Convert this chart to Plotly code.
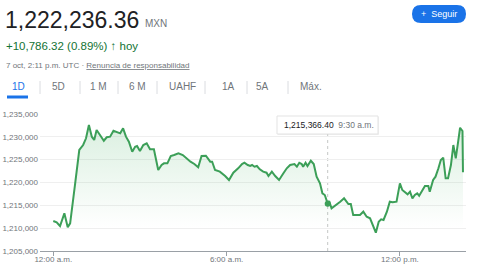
import plotly.graph_objects as go
import pandas as pd

DAY = "2024-10-07"
times = ["00:00","00:07","00:14","00:23","00:30","00:35","00:45","00:54","01:02","01:08",
         "01:14","01:20","01:25","01:30","01:37","01:45","01:51","01:58","02:05","02:12",
         "02:19","02:25","02:31","02:37","02:44","02:50","02:54","03:00","03:07","03:14",
         "03:21","03:29","03:38","03:45","03:50","03:57","04:04","04:11","04:20","04:29",
         "04:37","04:45","04:53","05:01","05:08","05:17","05:26","05:30","05:36","05:46",
         "05:57","06:05","06:14","06:21","06:24","06:32","06:37","06:44","06:49","06:53",
         "06:58","07:03","07:09","07:16","07:23","07:27","07:34","07:41","07:49","07:58",
         "08:05","08:12","08:21","08:26","08:31","08:36","08:39","08:44","08:48","08:55",
         "09:01","09:07","09:14","09:19","09:24","09:30","09:33","09:38","09:44","09:49",
         "09:56","10:04","10:13","10:18","10:23","10:30","10:37","10:44","10:51","10:58",
         "11:04","11:10","11:16","11:21","11:26","11:33","11:39","11:45","11:53","12:00",
         "12:05","12:11","12:16","12:21","12:26","12:31","12:36","12:40","12:45","12:52",
         "12:59","13:02","13:09","13:14","13:20","13:25","13:30","13:35","13:40","13:46",
         "13:51","13:56","14:01","14:05","14:10","14:11"]
values = [1211570,1211280,1210470,1213250,1210190,1211060,1219450,1227115,1228210,1229680,
          1232590,1230030,1229300,1231490,1230400,1229150,1229900,1230030,1231340,1231120,
          1230760,1231860,1230030,1228930,1226740,1227840,1227990,1226890,1228210,1228580,
          1227270,1227270,1222740,1223830,1224200,1224200,1225800,1226020,1226390,1226020,
          1225290,1224560,1224050,1223330,1225800,1225870,1224560,1224560,1222740,1222370,
          1221420,1220550,1222150,1222740,1223110,1224050,1224330,1223830,1223610,1223830,
          1223460,1223610,1222890,1222370,1222150,1221420,1222370,1221420,1220550,1222010,
          1223110,1223830,1224050,1223460,1224330,1224050,1223460,1224330,1223610,1224770,
          1224050,1221270,1219820,1217630,1217260,1215366.40,1215950,1214350,1214850,1215070,
          1215800,1216540,1215290,1215290,1212880,1212880,1212880,1213610,1212510,1212150,
          1210690,1209010,1211420,1211940,1211790,1213610,1215800,1215660,1215800,1219820,
          1218360,1217850,1217410,1217990,1216540,1217260,1217630,1217110,1218140,1219230,
          1219230,1217990,1220550,1221270,1223110,1224930,1225430,1220920,1220920,1223830,
          1228210,1225290,1228930,1231990,1231270,1222236.36]

y_ticks = [1205000, 1210000, 1215000, 1220000, 1225000, 1230000, 1235000]
x_tick_times = ["00:00", "06:00", "12:00"]
x_tick_labels = ["12:00 a.m.", "6:00 a.m.", "12:00 p.m."]

price_text = "1,222,236.36"
currency = "MXN"
change_text = "+10,786.32 (0.89%)"
change_suffix = "hoy"
date_text = "7 oct, 2:11 p.m. UTC"
disclaimer = "Renuncia de responsabilidad"
tabs = ["1D", "5D", "1 M", "6 M", "UAHF", "1A", "5A", "Máx."]
button_text = "+  Seguir"
hover_time = "09:30"
hover_value = 1215366.40
hover_label = "9:30 a.m."

FONT = "Liberation Sans, Arial, sans-serif"
GREEN = "#3c9f58"
BLUE = "#1a73e8"
GRAY = "#70757a"

x = pd.to_datetime([f"{DAY} {t}" for t in times])
hx = pd.to_datetime(f"{DAY} {hover_time}")

# plot area in pixels
PL, PR, PT, PB = 40, 466, 114, 251
def px(v):
    return (v - PL) / (PR - PL)
def py(v):
    return (PB - v) / (PB - PT)

fig = go.Figure()
fig.add_trace(go.Scatter(
    x=x, y=values, mode="lines",
    line=dict(color=GREEN, width=2),
    fill="tozeroy",
    fillgradient=dict(type="vertical", start=1210000, stop=1233000,
                      colorscale=[[0, "rgba(52,168,83,0)"], [1, "rgba(52,168,83,0.18)"]]),
    hoverinfo="skip", showlegend=False))
fig.add_trace(go.Scatter(
    x=[hx], y=[hover_value], mode="markers",
    marker=dict(color=GREEN, size=6), hoverinfo="skip", showlegend=False))

shapes = []
shapes.append(dict(type="line", xref="x", yref="paper", x0=hx, x1=hx, y0=0, y1=py(134),
                   line=dict(color="#c4c7c5", width=1, dash="dot"), layer="below"))
shapes.append(dict(type="rect", xref="paper", yref="paper", x0=px(278), x1=px(379),
                   y0=py(135), y1=py(117), fillcolor="rgba(0,0,0,0.06)", line=dict(width=0)))
shapes.append(dict(type="rect", xref="paper", yref="paper", x0=px(277), x1=px(378),
                   y0=py(134), y1=py(116), fillcolor="white", line=dict(color="#e3e3e3", width=1)))
bx0, bx1, by0, by1, r = 412, 466, 5, 23, 9
path = (f"M {px(bx0+r)} {py(by0)} L {px(bx1-r)} {py(by0)} "
        f"Q {px(bx1)} {py(by0)} {px(bx1)} {py(by0+r)} "
        f"Q {px(bx1)} {py(by1)} {px(bx1-r)} {py(by1)} "
        f"L {px(bx0+r)} {py(by1)} "
        f"Q {px(bx0)} {py(by1)} {px(bx0)} {py(by0+r)} "
        f"Q {px(bx0)} {py(by0)} {px(bx0+r)} {py(by0)} Z")
shapes.append(dict(type="path", xref="paper", yref="paper", path=path,
                   fillcolor=BLUE, line=dict(width=0)))
for sx in [40, 80, 118, 157, 205, 247, 288]:
    shapes.append(dict(type="line", xref="paper", yref="paper", x0=px(sx), x1=px(sx),
                       y0=py(81), y1=py(94), line=dict(color="#dadce0", width=1)))
shapes.append(dict(type="line", xref="paper", yref="paper", x0=px(7), x1=px(28),
                   y0=py(97), y1=py(97), line=dict(color=BLUE, width=3)))

ann = []
def add_text(text, xp, yp, size, color, anchor="left"):
    ann.append(dict(text=text, xref="paper", yref="paper", x=px(xp), y=py(yp),
                    xanchor=anchor, yanchor="middle", showarrow=False,
                    font=dict(family=FONT, size=size, color=color)))

add_text(price_text, 3, 20, 23, "#202124")
add_text(currency, 143, 23.5, 10, GRAY)
add_text(f"{change_text} <b>↑</b> {change_suffix}", 4, 46, 11.5, "#137333")
add_text(f"{date_text} · <u>{disclaimer}</u>", 4, 65, 8, GRAY)
tab_centers = [18, 58, 98, 137, 182, 228, 262, 311]
for t, cx in zip(tabs, tab_centers):
    add_text(t, cx, 87, 10, BLUE if t == "1D" else GRAY, anchor="center")
add_text(button_text, 439, 14, 9, "white", anchor="center")
add_text(f"{hover_value:,.2f}  <span style='color:{GRAY}'>{hover_label}</span>",
         282, 125, 8.5, "#202124")

fig.update_layout(
    width=480, height=270,
    margin=dict(l=PL, r=480 - PR, t=PT, b=270 - PB),
    paper_bgcolor="white", plot_bgcolor="white",
    font=dict(family=FONT, color=GRAY),
    shapes=shapes, annotations=ann,
    showlegend=False,
    xaxis=dict(
        range=[pd.Timestamp(f"{DAY} 00:00") - pd.Timedelta(minutes=27.6),
               pd.Timestamp(f"{DAY} 00:00") + pd.Timedelta(minutes=857.3)],
        tickvals=pd.to_datetime([f"{DAY} {t}" for t in x_tick_times]),
        ticktext=x_tick_labels,
        showgrid=False, zeroline=False, automargin=False,
        showline=True, linecolor="#9aa0a6", linewidth=1,
        ticks="outside", ticklen=4, tickcolor="#9aa0a6",
        ticklabelstandoff=-4,
        tickfont=dict(size=8, color=GRAY),
    ),
    yaxis=dict(
        range=[1205000, 1235000],
        tickvals=y_ticks,
        ticktext=[f"{v:,}" for v in y_ticks],
        showgrid=True, gridcolor="#efefef", gridwidth=1,
        zeroline=False, showline=False, ticks="", automargin=False,
        ticklabelstandoff=1,
        tickfont=dict(size=8, color=GRAY),
    ),
)

fig.write_html("out.html")
